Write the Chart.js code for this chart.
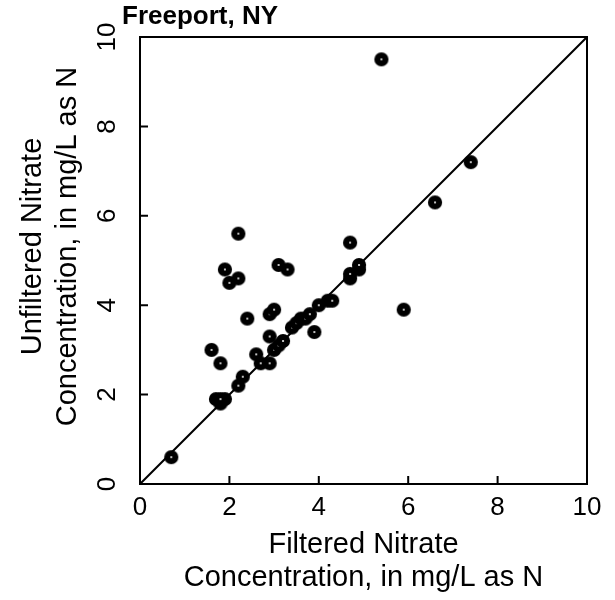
<!DOCTYPE html>
<html>
<head>
<meta charset="utf-8">
<script src="https://cdn.jsdelivr.net/npm/chart.js@4"></script>
<style>
 html,body{margin:0;padding:0;background:#fff;}
 canvas{display:block;}
</style>
</head>
<body>
<canvas id="chart" width="615" height="600"></canvas>
<script>
// Freeport, NY -- unfiltered vs filtered nitrate, 1:1 line

let filtered   = [0.7,1.6,1.8,1.7,1.8,1.9,1.8,1.9,2.0,2.2,2.2,2.2,2.3,2.4,2.6,2.7,2.9,2.9,2.9,3.0,
                  3.0,3.1,3.2,3.1,3.3,3.4,3.5,3.6,3.7,3.8,3.9,4.0,4.2,4.3,4.7,4.7,4.7,4.9,4.9,5.4,
                  5.9,6.6,7.4];
let unfiltered = [0.6,3.0,2.7,1.9,1.8,1.9,1.9,4.8,4.5,4.6,5.6,2.2,2.4,3.7,2.9,2.7,2.7,3.3,3.8,3.9,
                  3.0,3.1,3.2,4.9,4.8,3.5,3.6,3.7,3.7,3.8,3.4,4.0,4.1,4.1,4.6,4.7,5.4,4.8,4.9,9.5,
                  3.9,6.3,7.2];
let lineX = [0,10];
let lineY = [0,10];
let tickVals = [0,2,4,6,8,10];
let chartTitle = "Freeport, NY";
let xTitle = ["Filtered Nitrate","Concentration, in mg/L as N"];
let yTitle = ["Unfiltered Nitrate","Concentration, in mg/L as N"];

const FONT = '"Liberation Sans", Arial, sans-serif';

// marker: black dot with a little white centre
let dot = document.createElement('canvas');
dot.width = 16; dot.height = 16;
let dc = dot.getContext('2d');
dc.fillStyle = '#000'; dc.beginPath(); dc.arc(8,8,7.1,0,Math.PI*2); dc.fill();
dc.fillStyle = '#fff'; dc.beginPath(); dc.arc(8,8,1,0,Math.PI*2); dc.fill();

const frame = {
 id:'frame',
 afterDraw(c){
  const {ctx, chartArea:a, scales:{x,y}} = c;
  ctx.save();
  ctx.strokeStyle='#000'; ctx.lineWidth=2;
  ctx.strokeRect(a.left,a.top,a.right-a.left,a.bottom-a.top);
  ctx.beginPath();
  tickVals.forEach(v=>{
   let px=x.getPixelForValue(v); ctx.moveTo(px,a.bottom); ctx.lineTo(px,a.bottom-8);
   let py=y.getPixelForValue(v); ctx.moveTo(a.left,py); ctx.lineTo(a.left+8,py);
  });
  ctx.stroke();
  ctx.fillStyle='#000';
  ctx.font='bold 26px '+FONT;
  ctx.textBaseline='alphabetic';
  ctx.fillText(chartTitle,a.left-18,a.top-13);
  // y title, two rotated lines, sits a bit above the plot centre
  ctx.font='29px '+FONT;
  ctx.textAlign='center'; ctx.textBaseline='middle';
  ctx.translate(33,(a.top+a.bottom)/2-14);
  ctx.rotate(-Math.PI/2);
  yTitle.forEach((t,i)=>ctx.fillText(t,0,i*35));
  ctx.restore();
 }
};

function axis(title, titleSize, tickSize, extra){
 return Object.assign({
  type:'linear', min:0, max:10,
  afterBuildTicks:s=>{ s.ticks = tickVals.map(v=>({value:v})); },
  grid:{display:false, drawTicks:false},
  border:{display:false},
  ticks:{color:'#000', font:{family:FONT, size:tickSize}},
  title:{display:!!title, text:title || '', color:'#000', font:{family:FONT, size:titleSize, lineHeight:1.15}}
 }, extra);
}

let xs = axis(xTitle, 29, 26, {afterFit:s=>{ s.height=116; }});
xs.ticks.padding = 8; xs.ticks.maxRotation = 0;
xs.title.padding = {top:0, bottom:5};

let ys = axis(null, 29, 26, {afterFit:s=>{ s.width=140; }});
ys.ticks.padding = 18; ys.ticks.minRotation = 90; ys.ticks.maxRotation = 90; ys.ticks.crossAlign = 'center';

new Chart(document.getElementById('chart'),{
 type:'scatter',
 data:{
  datasets:[
   {label:'samples', data:filtered.map((v,i)=>({x:v,y:unfiltered[i]})),
    pointStyle:dot, pointRadius:7, order:0},
   {type:'line', label:'1:1', data:lineX.map((v,i)=>({x:v,y:lineY[i]})),
    borderColor:'#000', borderWidth:2, pointRadius:0, showLine:true, order:1}
  ]
 },
 plugins:[frame],
 options:{
  responsive:false, animation:false, devicePixelRatio:1,
  layout:{padding:{top:37, right:28, left:0, bottom:0}},
  plugins:{legend:{display:false}, tooltip:{enabled:false}},
  scales:{x:xs, y:ys}
 }
});
</script>
</body>
</html>
